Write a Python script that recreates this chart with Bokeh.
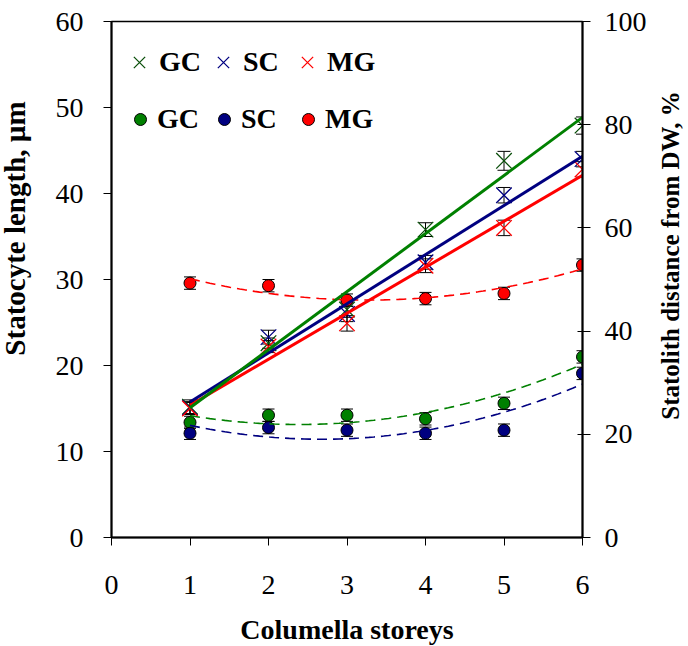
import math
import numpy as np
from bokeh.plotting import figure
from bokeh.models import (Range1d, LinearAxis, FixedTicker, Whisker, TeeHead,
                          ColumnDataSource, Legend, LegendItem, Label)
from bokeh.embed import file_html
from bokeh.resources import INLINE

# ---- data ----
storeys = [1, 2, 3, 4, 5, 6]
x_ticks = [0, 1, 2, 3, 4, 5, 6]
left_ticks = [0, 10, 20, 30, 40, 50, 60]
right_ticks = [0, 20, 40, 60, 80, 100]

# statocyte length, um (crosses, left axis)
len_gc = [15.2, 22.6, 26.5, 35.8, 43.8, 47.9]
len_sc = [15.1, 23.3, 26.0, 32.0, 39.8, 44.0]
len_mg = [15.0, 22.2, 24.9, 31.6, 36.0, 42.8]
len_gc_err = [0.8, 0.6, 0.9, 0.8, 1.1, 1.0]
len_sc_err = [0.7, 0.8, 0.9, 0.8, 0.9, 0.9]
len_mg_err = [0.7, 0.7, 0.9, 0.8, 0.9, 0.9]

# statolith distance from DW, % (circles, right axis)
dist_gc = [22.3, 23.7, 23.7, 23.0, 26.0, 35.0]
dist_sc = [20.2, 21.3, 20.8, 20.2, 20.8, 31.8]
dist_mg = [49.3, 48.8, 46.0, 46.3, 47.3, 52.8]
dist_gc_err = [1.2, 1.2, 1.2, 1.2, 1.2, 1.2]
dist_sc_err = [1.2, 1.2, 1.2, 1.2, 1.2, 1.2]
dist_mg_err = [1.2, 1.2, 1.2, 1.2, 1.2, 1.2]

C_GC_LINE = "#008000"
C_GC_X = "#0a4f0a"
C_SC = "#000080"
C_MG = "#ff0000"
FONT = "Liberation Serif"

p = figure(width=688, height=646, output_backend="svg", toolbar_location=None,
           x_range=Range1d(0, 6), y_range=Range1d(0, 60),
           min_border_left=111, min_border_right=106,
           min_border_top=21, min_border_bottom=109)
p.extra_y_ranges = {"pct": Range1d(0, 100)}
p.grid.visible = False
p.outline_line_color = "black"
p.outline_line_width = 1.5
p.background_fill_color = "white"
p.border_fill_color = "white"

def style_axis(ax):
    ax.axis_line_width = 2
    ax.axis_line_color = "black"
    ax.major_tick_line_color = "black"
    ax.major_tick_line_width = 1
    ax.minor_tick_line_color = None
    ax.major_label_text_font = FONT
    ax.major_label_text_font_size = "28px"
    ax.major_label_text_color = "black"

xa = p.xaxis[0]
style_axis(xa)
xa.ticker = FixedTicker(ticks=x_ticks)
xa.major_tick_out = 8
xa.major_tick_in = 0
xa.major_label_standoff = 30

ya = p.yaxis[0]
style_axis(ya)
ya.ticker = FixedTicker(ticks=left_ticks)
ya.major_tick_out = 8
ya.major_tick_in = 0
ya.major_label_standoff = 20

ra = LinearAxis(y_range_name="pct", ticker=FixedTicker(ticks=right_ticks))
style_axis(ra)
ra.major_tick_out = 8
ra.major_tick_in = 5
ra.major_label_standoff = 14
p.add_layout(ra, "right")

# axis titles (placed in the side panels, taking no extra room)
p.add_layout(Label(x=-6, y=309, x_units="screen", y_units="screen",
                   text="Statocyte length, µm", angle=math.pi / 2,
                   text_align="center", text_baseline="middle",
                   text_font=FONT, text_font_style="bold",
                   text_font_size="29px", text_color="black"), "left")

p.add_layout(Label(x=21, y=282, x_units="screen", y_units="screen",
                   text="Statolith distance from DW, %", angle=math.pi / 2,
                   text_align="center", text_baseline="middle",
                   text_font=FONT, text_font_style="bold",
                   text_font_size="25px", text_color="black"), "right")

p.add_layout(Label(x=235.5, y=-2, x_units="screen", y_units="screen",
                   text="Columella storeys",
                   text_align="center", text_baseline="middle",
                   text_font=FONT, text_font_style="bold",
                   text_font_size="28px", text_color="black"), "below")

# ---- error bars ----
def add_err(y, err, head, rng=None):
    src = ColumnDataSource(dict(x=storeys,
                                lo=[a - b for a, b in zip(y, err)],
                                hi=[a + b for a, b in zip(y, err)]))
    kw = {}
    if rng:
        kw["y_range_name"] = rng
    w = Whisker(source=src, base="x", lower="lo", upper="hi",
                line_color="black", line_width=1,
                lower_head=TeeHead(size=head, line_color="black", line_width=1),
                upper_head=TeeHead(size=head, line_color="black", line_width=1),
                **kw)
    p.add_layout(w)

for y, e in ((len_gc, len_gc_err), (len_sc, len_sc_err), (len_mg, len_mg_err)):
    add_err(y, e, 13)
for y, e in ((dist_gc, dist_gc_err), (dist_sc, dist_sc_err), (dist_mg, dist_mg_err)):
    add_err(y, e, 12, "pct")

# ---- markers ----
rx_gc = p.scatter(storeys, len_gc, marker="x", size=22, line_color=C_GC_X, line_width=1.3)
rx_sc = p.scatter(storeys, len_sc, marker="x", size=22, line_color=C_SC, line_width=1.3)
rx_mg = p.scatter(storeys, len_mg, marker="x", size=22, line_color=C_MG, line_width=1.3)

rc_gc = p.scatter(storeys, dist_gc, marker="circle", size=12, fill_color=C_GC_LINE,
                  line_color="black", line_width=1, y_range_name="pct")
rc_sc = p.scatter(storeys, dist_sc, marker="circle", size=12, fill_color=C_SC,
                  line_color="black", line_width=1, y_range_name="pct")
rc_mg = p.scatter(storeys, dist_mg, marker="circle", size=12, fill_color=C_MG,
                  line_color="black", line_width=1, y_range_name="pct")

# ---- trend lines (fitted to the data) ----
xs = np.array([storeys[0], storeys[-1]], dtype=float)
xq = np.linspace(storeys[0], storeys[-1], 80)
for y, c in ((dist_mg, C_MG), (dist_sc, C_SC), (dist_gc, C_GC_LINE)):
    cf = np.polyfit(storeys, y, 2)
    p.line(xq, np.polyval(cf, xq), line_color=c, line_width=1.6, line_dash="10 6",
           y_range_name="pct")
for y, c in ((len_mg, C_MG), (len_sc, C_SC), (len_gc, C_GC_LINE)):
    cf = np.polyfit(storeys, y, 1)
    p.line(xs, np.polyval(cf, xs), line_color=c, line_width=3)

# ---- legends ----
def make_legend(items, loc, glyph, standoff, spacing):
    lg = Legend(items=items, orientation="horizontal", location=loc,
                glyph_width=glyph, glyph_height=glyph, label_standoff=standoff,
                spacing=spacing, label_width=44, padding=0, margin=0,
                border_line_color=None, background_fill_alpha=0,
                label_text_font=FONT, label_text_font_style="bold",
                label_text_font_size="28px", label_text_color="black")
    p.add_layout(lg)

make_legend([LegendItem(label="GC", renderers=[rx_gc]),
             LegendItem(label="SC", renderers=[rx_sc]),
             LegendItem(label="MG", renderers=[rx_mg])], (8, 455), 40, 0, 0)
make_legend([LegendItem(label="GC", renderers=[rc_gc]),
             LegendItem(label="SC", renderers=[rc_sc]),
             LegendItem(label="MG", renderers=[rc_mg])], (14, 402), 30, 2, 8)

open("out.html", "w").write(file_html(p, INLINE))
